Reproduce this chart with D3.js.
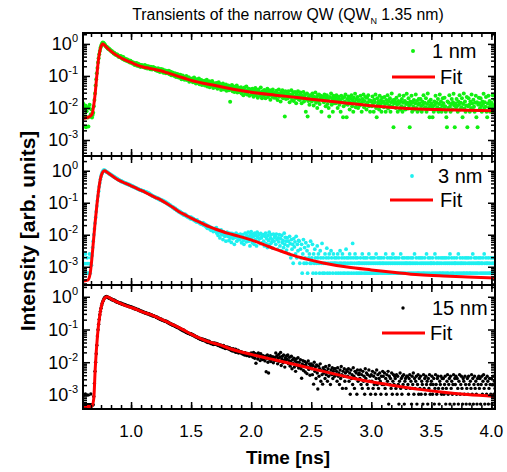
<!DOCTYPE html>
<html>
<head>
<meta charset="utf-8">
<script src="https://cdn.jsdelivr.net/npm/d3@7"></script>
<style>
  body { margin: 0; background: #fff; }
  svg { font-family: "Liberation Sans", Arial, sans-serif; }
</style>
</head>
<body>
<div id="chart"></div>
<script>
// transients are sampled every dt ns; each row = [start time, log10 intensities]
const dt = 0.005;

const trace1nm = [
  [0.60, [-1.85,-2.58,-2.0,-2.27,-1.92,-2.6,-2.1,-1.98,-2.3,-2.58,-2.0,-1.9,-2.27,-2.2,-2.05,-2.3,-2.22,-2.15,-1.95,-1.75]],
  [0.70, [-1.55,-1.3,-1.1,-0.92,-0.75,-0.58,-0.45,-0.32,-0.22,-0.13,-0.07,-0.02,0.02,0.04,0.03,0.01,-0.02,-0.04,-0.07,-0.09]],
  [0.80, [-0.1,-0.14,-0.13,-0.17,-0.16,-0.19,-0.2,-0.24,-0.22,-0.25,-0.26,-0.3,-0.28,-0.31,-0.34,-0.32,-0.35,-0.33,-0.37,-0.4]],
  [0.90, [-0.37,-0.41,-0.4,-0.38,-0.44,-0.42,-0.47,-0.41,-0.45,-0.5,-0.46,-0.49,-0.53,-0.48,-0.5,-0.55,-0.51,-0.54,-0.58,-0.53]],
  [1.00, [-0.55,-0.6,-0.57,-0.62,-0.58,-0.6,-0.66,-0.61,-0.63,-0.6,-0.68,-0.64,-0.62,-0.7,-0.66,-0.65,-0.72,-0.68,-0.66,-0.7]],
  [1.10, [-0.68,-0.73,-0.7,-0.66,-0.75,-0.71,-0.69,-0.77,-0.72,-0.7,-0.76,-0.73,-0.79,-0.71,-0.74,-0.8,-0.75,-0.72,-0.78,-0.76]],
  [1.20, [-0.75,-0.82,-0.78,-0.8,-0.85,-0.76,-0.83,-0.79,-0.88,-0.81,-0.78,-0.86,-0.82,-0.8,-0.9,-0.84,-0.87,-0.83,-0.92,-0.86]],
  [1.30, [-0.85,-0.92,-0.88,-0.84,-0.95,-0.9,-0.87,-0.98,-0.91,-0.89,-0.97,-0.93,-1.0,-0.92,-0.96,-1.03,-0.94,-0.99,-0.95,-1.05]],
  [1.40, [-0.98,-1.05,-0.96,-1.0,-1.1,-1.02,-0.99,-1.08,-1.04,-1.12,-1.03,-1.07,-1.0,-1.13,-1.06,-1.1,-1.04,-1.18,-1.08,-1.12]],
  [1.50, [-1.1,-1.16,-1.08,-1.2,-1.12,-1.05,-1.18,-1.14,-1.24,-1.1,-1.15,-1.22,-1.12,-1.08,-1.26,-1.17,-1.2,-1.13,-1.28,-1.19]],
  [1.60, [-1.18,-1.26,-1.15,-1.3,-1.2,-1.24,-1.12,-1.33,-1.22,-1.27,-1.17,-1.35,-1.25,-1.2,-1.3,-1.16,-1.28,-1.38,-1.23,-1.29]],
  [1.70, [-1.25,-1.35,-1.22,-1.3,-1.4,-1.28,-1.2,-1.36,-1.32,-1.26,-1.44,-1.3,-1.38,-1.24,-1.33,-1.42,-1.29,-1.35,-1.27,-1.46]],
  [1.80, [-1.32,-1.4,-1.3,-1.45,-1.36,-1.81,-1.34,-1.42,-1.28,-1.48,-1.38,-1.33,-1.5,-1.4,-1.35,-1.45,-1.3,-1.52,-1.41,-1.37]],
  [1.90, [-1.38,-1.5,-1.42,-1.35,-1.55,-1.46,-1.4,-1.6,-1.44,-1.36,-1.52,-1.48,-1.33,-1.58,-1.45,-1.5,-1.4,-1.62,-1.47,-1.42]],
  [2.00, [-1.45,-1.58,-1.4,-1.52,-1.65,-1.43,-1.55,-1.38,-1.6,-1.5,-1.47,-1.68,-1.42,-1.56,-1.5,-1.62,-1.36,-1.53,-1.7,-1.48]],
  [2.10, [-1.5,-1.62,-1.44,-1.58,-1.7,-1.48,-1.55,-1.4,-1.66,-1.52,-1.6,-1.45,-1.74,-1.56,-1.49,-1.64,-1.42,-1.58,-1.68,-1.53]],
  [2.20, [-1.52,-1.68,-1.46,-1.6,-1.75,-1.55,-1.42,-1.65,-1.58,-1.8,-1.5,-1.62,-1.45,-1.7,-1.56,-1.64,-2.27,-1.48,-1.72,-1.6]],
  [2.30, [-1.55,-1.7,-1.48,-1.62,-1.82,-1.58,-1.66,-1.45,-1.75,-1.6,-1.52,-1.78,-1.64,-1.5,-1.7,-1.85,-1.57,-1.62,-1.48,-1.73]],
  [2.40, [-1.6,-1.75,-1.52,-1.68,-1.85,-1.62,-1.7,-1.5,-1.8,-1.66,-1.58,-2.12,-1.72,-1.55,-2.27,-1.78,-1.64,-1.9,-1.6,-1.74]],
  [2.50, [-1.62,-1.8,-1.55,-1.7,-1.92,-1.65,-1.75,-1.52,-1.84,-1.68,-2.0,-1.6,-1.78,-1.58,-1.88,-1.7,-1.62,-2.12,-1.74,-1.66]],
  [2.60, [-1.65,-1.82,-1.58,-1.75,-1.95,-1.68,-1.6,-1.88,-1.72,-2.0,-2.27,-1.66,-1.8,-1.55,-1.9,-1.7,-2.12,-1.62,-1.85,-1.74]],
  [2.70, [-1.68,-1.85,-1.6,-1.78,-2.0,-1.72,-1.65,-1.9,-1.75,-2.12,-1.62,-1.82,-1.7,-2.29,-1.95,-1.66,-1.8,-1.58,-1.88,-2.29]],
  [2.80, [-1.72,-1.9,-1.64,-1.8,-2.05,-1.7,-1.85,-1.6,-1.95,-1.76,-2.12,-1.68,-1.83,-1.56,-1.98,-1.74,-1.88,-1.66,-2.0,-1.78]],
  [2.90, [-1.75,-1.92,-1.62,-1.85,-2.12,-1.72,-1.8,-1.58,-1.98,-1.78,-1.66,-1.9,-2.05,-1.68,-1.84,-1.6,-1.95,-1.76,-2.12,-1.8]],
  [3.00, [-1.78,-1.95,-1.64,-1.86,-2.12,-1.74,-1.82,-1.58,-2.0,-2.29,-1.7,-1.9,-1.8,-2.05,-1.62,-1.88,-1.76,-2.12,-1.68,-1.84]],
  [3.10, [-1.8,-1.98,-1.66,-1.88,-2.12,-1.75,-1.85,-1.6,-2.02,-1.78,-1.92,-1.7,-2.12,-1.82,-1.55,-1.95,-1.76,-2.6,-1.86,-1.74]],
  [3.20, [-1.82,-2.0,-1.68,-1.9,-2.12,-1.78,-1.86,-1.6,-2.05,-1.8,-1.95,-1.72,-2.12,-1.84,-1.62,-1.98,-1.78,-2.05,-1.88,-1.56]],
  [3.30, [-1.84,-2.02,-1.7,-1.92,-2.6,-1.8,-1.88,-1.62,-2.12,-1.82,-1.96,-1.75,-2.05,-1.86,-1.58,-2.0,-1.78,-2.12,-1.9,-1.72]],
  [3.40, [-1.85,-2.05,-1.72,-1.94,-2.12,-1.8,-1.9,-1.6,-2.02,-1.84,-1.98,-1.7,-2.12,-1.88,-1.55,-2.0,-1.8,-2.29,-1.92,-1.74]],
  [3.50, [-1.86,-2.0,-2.29,-1.95,-2.12,-1.8,-1.9,-1.62,-2.05,-1.84,-1.98,-1.72,-2.12,-1.88,-1.58,-2.02,-1.8,-2.12,-1.92,-1.7]],
  [3.60, [-1.85,-2.02,-1.68,-1.95,-2.12,-2.29,-2.6,-1.8,-2.0,-1.84,-1.6,-1.96,-2.12,-1.88,-1.72,-2.05,-1.82,-1.56,-1.92,-2.6]],
  [3.70, [-1.86,-2.0,-1.72,-1.94,-2.12,-1.8,-1.9,-1.6,-2.05,-1.84,-1.98,-1.7,-2.29,-1.88,-1.55,-2.02,-1.8,-2.12,-1.92,-1.66]],
  [3.80, [-2.6,-1.95,-1.7,-1.9,-2.12,-1.8,-2.0,-1.58,-1.86,-2.05,-1.74,-1.96,-2.12,-1.84,-1.62,-2.29,-1.82,-2.6,-1.9,-1.68]],
  [3.90, [-1.85,-2.02,-1.7,-1.94,-2.12,-1.8,-1.88,-1.56,-2.0,-1.82,-1.96,-1.66,-2.12,-2.29,-1.86,-1.62,-1.98,-1.78,-2.12,-1.9]],
  [4.00, [-1.84,-2.0,-1.6,-1.92,-2.12,-1.74,-1.88,-1.65]]
];

const trace3nm = [
  [0.60, [-2.72,-3.2,-2.9,-3.2,-2.6,-2.9,-3.2,-2.72,-2.9,-3.2,-2.9,-2.6,-3.2,-2.72,-2.95,-2.65,-2.4,-2.2,-2.0,-1.82]],
  [0.70, [-1.64,-1.46,-1.28,-1.1,-0.94,-0.79,-0.64,-0.5,-0.38,-0.27,-0.18,-0.11,-0.06,-0.02,0.01,0.02,0.01,0.0,-0.02,-0.04]],
  [0.80, [-0.04,-0.05,-0.07,-0.08,-0.1,-0.1,-0.12,-0.14,-0.14,-0.16,-0.17,-0.18,-0.2,-0.2,-0.22,-0.23,-0.24,-0.25,-0.26,-0.28]],
  [0.90, [-0.29,-0.3,-0.31,-0.33,-0.32,-0.35,-0.34,-0.36,-0.37,-0.37,-0.38,-0.4,-0.39,-0.41,-0.42,-0.42,-0.44,-0.43,-0.45,-0.46]],
  [1.00, [-0.46,-0.47,-0.49,-0.48,-0.5,-0.51,-0.52,-0.53,-0.53,-0.55,-0.55,-0.56,-0.57,-0.58,-0.59,-0.6,-0.6,-0.61,-0.62,-0.63]],
  [1.10, [-0.63,-0.63,-0.65,-0.65,-0.66,-0.67,-0.68,-0.68,-0.7,-0.7,-0.71,-0.72,-0.74,-0.75,-0.76,-0.78,-0.79,-0.8,-0.8,-0.82]],
  [1.20, [-0.82,-0.83,-0.85,-0.84,-0.87,-0.86,-0.88,-0.9,-0.89,-0.92,-0.91,-0.93,-0.92,-0.95,-0.94,-0.97,-0.96,-0.99,-0.98,-1.01]],
  [1.30, [-1.01,-1.04,-1.03,-1.06,-1.08,-1.07,-1.1,-1.11,-1.12,-1.15,-1.13,-1.16,-1.17,-1.2,-1.18,-1.21,-1.24,-1.22,-1.25,-1.28]],
  [1.40, [-1.26,-1.3,-1.28,-1.32,-1.31,-1.35,-1.33,-1.36,-1.39,-1.37,-1.36,-1.41,-1.39,-1.43,-1.42,-1.46,-1.44,-1.47,-1.45,-1.5]],
  [1.50, [-1.45,-1.5,-1.48,-1.52,-1.5,-1.55,-1.53,-1.57,-1.55,-1.6,-1.54,-1.6,-1.58,-1.62,-1.6,-1.65,-1.62,-1.67,-1.64,-1.68]],
  [1.60, [-1.62,-1.7,-1.66,-1.72,-1.68,-1.75,-1.7,-1.8,-1.72,-1.78,-1.74,-1.82,-1.76,-1.86,-1.78,-1.85,-1.8,-1.9,-1.82,-1.88]],
  [1.70, [-1.8,-1.88,-1.78,-1.95,-1.84,-2.02,-1.86,-1.92,-2.1,-1.9,-1.85,-2.0,-1.93,-2.15,-1.9,-1.98,-2.05,-1.94,-2.2,-1.97]],
  [1.80, [-1.92,-2.05,-1.98,-2.18,-1.95,-2.1,-2.0,-2.24,-1.96,-2.06,-2.12,-1.98,-2.3,-2.02,-2.08,-1.95,-2.2,-2.05,-2.0,-2.15]],
  [1.90, [-2.02,-2.15,-1.98,-2.1,-2.25,-2.05,-2.0,-2.18,-2.3,-2.08,-1.95,-2.12,-2.22,-2.02,-2.1,-1.92,-2.2,-2.05,-2.35,-2.0]],
  [2.00, [-1.9,-2.1,-2.25,-1.98,-2.05,-2.3,-1.95,-2.15,-2.02,-2.35,-1.92,-2.08,-2.2,-2.0,-2.12,-2.28,-1.96,-2.1,-2.05,-2.25]],
  [2.10, [-2.0,-2.2,-2.35,-2.05,-1.95,-2.28,-2.12,-2.4,-2.02,-2.18,-1.92,-2.3,-2.1,-2.0,-2.25,-2.15,-2.42,-1.98,-2.2,-2.08]],
  [2.20, [-2.05,-2.3,-1.98,-2.15,-2.45,-2.1,-2.22,-2.0,-2.35,-2.12,-2.5,-2.02,-2.25,-2.18,-2.4,-1.95,-2.3,-2.08,-2.2,-2.48]],
  [2.30, [-2.1,-2.35,-2.2,-2.6,-2.05,-2.28,-2.72,-2.15,-2.45,-2.3,-2.89,-2.12,-2.38,-2.22,-2.6,-2.05,-2.72,-2.3,-2.5,-2.18]],
  [2.40, [-2.2,-2.89,-2.45,-2.72,-2.3,-3.2,-2.6,-2.15,-2.89,-2.4,-2.72,-2.25,-2.89,-2.5,-3.2,-2.35,-2.72,-2.6,-2.89,-2.2]],
  [2.50, [-2.89,-2.72,-2.3,-3.2,-2.6,-2.89,-2.45,-2.72,-3.2,-2.89,-2.35,-2.72,-2.6,-2.89,-3.2,-2.5,-2.72,-2.89,-2.27,-3.2]],
  [2.60, [-2.72,-2.89,-3.2,-2.6,-2.89,-2.72,-2.42,-3.2,-2.89,-2.72,-2.6,-3.2,-2.89,-2.5,-2.72,-2.89,-3.2,-2.6,-2.89,-2.72]],
  [2.70, [-2.89,-3.2,-2.72,-2.89,-2.6,-3.2,-2.72,-2.89,-2.5,-3.2,-2.89,-2.72,-2.6,-3.2,-2.89,-2.72,-3.2,-2.89,-2.45,-2.72]],
  [2.80, [-3.2,-2.89,-2.72,-3.2,-2.6,-2.89,-2.72,-3.2,-2.89,-2.27,-2.72,-3.2,-2.89,-2.6,-2.72,-3.2,-2.89,-2.72,-3.2,-2.89]],
  [2.90, [-2.89,-3.2,-2.72,-2.89,-3.2,-2.6,-2.89,-2.72,-3.2,-2.89,-2.72,-3.2,-2.89,-2.72,-3.2,-2.89,-2.6,-3.2,-2.89,-2.72]],
  [3.00, [-3.2,-2.89,-2.72,-3.2,-2.89,-2.72,-3.2,-2.89,-2.6,-3.2,-2.89,-2.72,-3.2,-2.89,-2.72,-2.89,-3.2,-2.72,-2.89,-3.2]],
  [3.10, [-2.89,-2.72,-3.2,-2.89,-2.6,-3.2,-2.89,-2.72,-3.2,-2.89,-3.2,-2.72,-2.89,-3.2,-2.72,-2.89,-2.6,-3.2,-2.89,-2.72]],
  [3.20, [-3.2,-2.89,-2.72,-3.2,-2.89,-3.2,-2.72,-2.89,-3.2,-2.6,-2.89,-3.2,-2.72,-2.89,-3.2,-2.72,-2.89,-3.2,-2.89,-2.72]],
  [3.30, [-2.89,-3.2,-2.72,-2.89,-3.2,-2.89,-2.72,-3.2,-2.89,-2.72,-3.2,-2.89,-2.6,-3.2,-2.89,-2.72,-3.2,-2.89,-3.2,-2.72]],
  [3.40, [-3.2,-2.89,-2.72,-3.2,-2.89,-2.72,-3.2,-2.89,-3.2,-2.72,-2.89,-3.2,-2.6,-2.89,-3.2,-2.72,-2.89,-3.2,-2.72,-2.89]],
  [3.50, [-2.89,-3.2,-2.72,-2.89,-3.2,-2.89,-2.6,-3.2,-2.72,-2.89,-3.2,-2.89,-2.72,-3.2,-2.89,-3.2,-2.72,-2.89,-3.2,-2.72]],
  [3.60, [-3.2,-2.89,-2.72,-3.2,-2.89,-2.72,-3.2,-2.89,-3.2,-2.72,-2.89,-2.6,-3.2,-2.89,-2.72,-3.2,-2.89,-3.2,-2.72,-2.89]],
  [3.70, [-2.89,-3.2,-2.72,-2.89,-3.2,-2.6,-2.89,-3.2,-2.72,-2.89,-3.2,-2.89,-2.72,-3.2,-2.89,-3.2,-2.72,-2.89,-3.2,-2.72]],
  [3.80, [-3.2,-2.89,-2.72,-3.2,-2.89,-3.2,-2.72,-2.89,-3.2,-2.6,-2.89,-3.2,-2.72,-2.89,-3.2,-2.72,-2.89,-3.2,-2.89,-2.72]],
  [3.90, [-2.89,-3.2,-2.72,-2.89,-3.2,-2.89,-2.72,-3.2,-2.6,-2.89,-3.2,-2.72,-2.89,-3.2,-2.89,-2.72,-3.2,-2.89,-3.2,-2.72]],
  [4.00, [-3.2,-2.89,-2.72,-3.2,-2.89,-2.72,-3.2,-2.89]]
];

const trace15nm = [
  [0.60, [-3.3,-3.0,-3.3,-3.3,-2.97,-3.3,-3.3,-3.3,-3.0,-3.3,-3.3,-3.3,-3.3,-2.97,-3.3,-3.3,-3.3,-3.3,-3.05,-2.65]],
  [0.70, [-2.28,-2.0,-1.74,-1.48,-1.2,-1.01,-0.84,-0.69,-0.55,-0.44,-0.35,-0.27,-0.2,-0.14,-0.1,-0.06,-0.03,-0.01,0.0,0.01]],
  [0.80, [0.0,-0.01,-0.03,-0.02,-0.05,-0.04,-0.07,-0.06,-0.09,-0.08,-0.1,-0.11,-0.1,-0.13,-0.12,-0.15,-0.14,-0.17,-0.16,-0.18]],
  [0.90, [-0.18,-0.2,-0.19,-0.21,-0.2,-0.23,-0.22,-0.24,-0.23,-0.25,-0.24,-0.27,-0.26,-0.27,-0.28,-0.28,-0.3,-0.29,-0.31,-0.3]],
  [1.00, [-0.31,-0.33,-0.32,-0.34,-0.35,-0.34,-0.37,-0.36,-0.38,-0.37,-0.39,-0.4,-0.39,-0.42,-0.41,-0.43,-0.44,-0.43,-0.46,-0.45]],
  [1.10, [-0.46,-0.48,-0.47,-0.49,-0.5,-0.49,-0.51,-0.52,-0.51,-0.53,-0.52,-0.55,-0.54,-0.56,-0.55,-0.58,-0.57,-0.59,-0.58,-0.6]],
  [1.20, [-0.6,-0.61,-0.63,-0.62,-0.64,-0.66,-0.65,-0.67,-0.68,-0.69,-0.68,-0.71,-0.7,-0.72,-0.73,-0.72,-0.75,-0.74,-0.76,-0.75]],
  [1.30, [-0.76,-0.79,-0.78,-0.81,-0.8,-0.83,-0.82,-0.85,-0.84,-0.87,-0.86,-0.88,-0.87,-0.9,-0.91,-0.9,-0.93,-0.92,-0.95,-0.94]],
  [1.40, [-0.95,-0.98,-0.97,-1.0,-0.99,-1.02,-1.03,-1.01,-1.05,-1.04,-1.07,-1.06,-1.09,-1.08,-1.1,-1.12,-1.11,-1.13,-1.12,-1.15]],
  [1.50, [-1.13,-1.16,-1.15,-1.18,-1.17,-1.2,-1.19,-1.22,-1.21,-1.24,-1.23,-1.25,-1.27,-1.26,-1.28,-1.3,-1.27,-1.31,-1.29,-1.33]],
  [1.60, [-1.3,-1.33,-1.31,-1.35,-1.32,-1.36,-1.38,-1.34,-1.4,-1.37,-1.36,-1.41,-1.39,-1.43,-1.4,-1.44,-1.42,-1.46,-1.41,-1.45]],
  [1.70, [-1.42,-1.45,-1.43,-1.47,-1.44,-1.49,-1.46,-1.5,-1.47,-1.52,-1.48,-1.53,-1.5,-1.55,-1.49,-1.56,-1.52,-1.58,-1.54,-1.57]],
  [1.80, [-1.53,-1.58,-1.55,-1.6,-1.56,-1.62,-1.58,-1.64,-1.6,-1.66,-1.59,-1.65,-1.62,-1.68,-1.6,-1.7,-1.64,-1.67,-1.63,-1.72]],
  [1.90, [-1.66,-1.7,-1.68,-1.72,-1.69,-1.74,-1.7,-1.76,-1.72,-1.78,-1.71,-1.77,-1.74,-1.8,-1.73,-1.79,-1.76,-1.82,-1.75,-1.8]],
  [2.00, [-1.72,-1.8,-1.75,-1.85,-1.7,-1.78,-1.88,-1.74,-2.03,-1.8,-1.76,-1.9,-1.72,-1.84,-1.79,-1.95,-1.74,-1.86,-1.8,-1.92]],
  [2.10, [-1.8,-1.9,-1.84,-1.96,-1.82,-2.29,-1.88,-1.78,-2.0,-2.33,-1.85,-1.92,-1.8,-1.98,-1.86,-1.9,-1.83,-2.02,-1.88,-1.95]],
  [2.20, [-1.85,-1.72,-1.95,-1.8,-2.05,-1.88,-1.76,-1.98,-1.84,-1.7,-2.1,-1.9,-1.82,-2.02,-1.78,-1.94,-2.15,-1.86,-1.92,-1.8]],
  [2.30, [-1.9,-1.78,-2.05,-1.95,-1.85,-2.12,-1.98,-1.82,-2.2,-1.92,-2.04,-1.88,-2.15,-1.96,-2.28,-1.9,-2.0,-2.1,-1.86,-2.18]],
  [2.40, [-2.0,-2.12,-1.92,-2.2,-2.49,-2.05,-1.95,-2.25,-2.1,-1.98,-2.3,-2.08,-2.02,-2.35,-2.15,-1.96,-2.22,-2.05,-2.4,-2.1]],
  [2.50, [-2.05,-2.2,-2.38,-2.1,-2.67,-2.0,-2.28,-2.15,-2.5,-2.08,-2.33,-2.82,-2.12,-2.43,-2.2,-2.05,-2.58,-2.25,-2.38,-2.67]],
  [2.60, [-2.17,-2.33,-2.24,-2.5,-2.13,-2.38,-2.28,-2.58,-2.2,-2.43,-2.1,-2.33,-2.68,-2.24,-2.38,-2.17,-2.5,-2.28,-2.2,-2.43]],
  [2.70, [-2.2,-2.38,-2.28,-2.58,-2.17,-2.43,-2.33,-2.68,-2.24,-2.5,-2.13,-2.38,-2.8,-2.28,-2.43,-2.2,-2.58,-2.33,-2.8,-2.24]],
  [2.80, [-2.28,-2.43,-2.2,-2.58,-2.33,-2.98,-2.24,-2.5,-2.38,-2.68,-2.17,-2.43,-2.8,-2.28,-2.5,-2.33,-2.98,-2.24,-2.58,-2.38]],
  [2.90, [-2.33,-2.5,-2.24,-2.68,-2.38,-2.8,-2.28,-2.58,-2.43,-2.98,-2.2,-2.5,-2.33,-2.68,-2.38,-2.8,-2.24,-2.58,-2.43,-2.98]],
  [3.00, [-2.38,-2.58,-2.28,-2.8,-2.43,-2.68,-2.33,-2.98,-2.5,-2.24,-2.68,-2.38,-2.8,-2.5,-2.33,-2.58,-2.98,-2.43,-2.68,-2.28]],
  [3.10, [-2.43,-2.68,-2.33,-2.8,-2.5,-2.98,-2.38,-2.58,-2.28,-3.28,-2.43,-2.68,-2.5,-2.8,-2.33,-2.98,-2.58,-2.38,-2.68,-2.43]],
  [3.20, [-2.5,-2.8,-2.38,-2.98,-2.43,-2.68,-3.28,-2.58,-2.33,-2.8,-2.5,-2.98,-2.43,-2.68,-2.38,-3.28,-2.58,-2.5,-2.8,-2.43]],
  [3.30, [-2.43,-2.68,-2.98,-2.5,-2.38,-2.8,-2.58,-3.28,-2.43,-2.68,-2.33,-2.98,-2.5,-2.8,-2.58,-2.43,-3.28,-2.68,-2.38,-2.98]],
  [3.40, [-2.5,-2.8,-2.43,-2.98,-2.58,-2.68,-3.28,-2.38,-2.8,-2.5,-2.98,-2.43,-2.68,-2.58,-3.28,-2.5,-2.8,-2.38,-2.98,-2.68]],
  [3.50, [-2.58,-2.43,-2.98,-2.68,-2.5,-3.28,-2.8,-2.38,-2.68,-2.98,-2.5,-2.43,-2.8,-3.28,-2.58,-2.68,-2.43,-2.98,-2.5,-2.8]],
  [3.60, [-2.5,-2.98,-2.68,-2.43,-3.28,-2.8,-2.58,-2.38,-2.98,-2.68,-2.5,-3.28,-2.43,-2.8,-2.58,-2.98,-2.68,-2.38,-3.28,-2.5]],
  [3.70, [-2.68,-2.43,-2.98,-2.5,-2.8,-3.28,-2.58,-2.38,-2.98,-2.68,-2.43,-2.8,-3.28,-2.5,-2.58,-2.98,-2.43,-2.68,-3.28,-2.8]],
  [3.80, [-2.5,-2.98,-2.43,-2.68,-3.28,-2.58,-2.8,-2.38,-2.98,-2.5,-3.28,-2.68,-2.43,-2.8,-2.58,-2.98,-3.28,-2.5,-2.68,-2.43]],
  [3.90, [-2.8,-2.5,-3.28,-2.68,-2.43,-2.98,-2.58,-2.38,-2.8,-3.28,-2.5,-2.68,-2.98,-2.43,-2.58,-3.28,-2.8,-2.5,-2.68,-2.98]],
  [4.00, [-2.5,-3.28,-2.68,-2.43,-2.98,-2.58,-2.8,-2.38]]
];

// fit curves: [time (ns), log10 intensity]
const fit1nm = [[0.60,-2.33],[0.65,-2.28],[0.675,-2.2],[0.69,-1.9],[0.70,-1.6],[0.716,-0.95],[0.73,-0.45],[0.745,-0.15],[0.763,0],[0.78,-0.04],[0.80,-0.12],[0.85,-0.28],[0.90,-0.4],[0.95,-0.5],[1.00,-0.58],[1.05,-0.66],[1.10,-0.72],[1.15,-0.76],[1.20,-0.8],[1.25,-0.84],[1.30,-0.9],[1.35,-0.96],[1.40,-1.02],[1.45,-1.08],[1.50,-1.14],[1.60,-1.23],[1.70,-1.3],[1.80,-1.38],[1.90,-1.45],[2.00,-1.51],[2.20,-1.6],[2.40,-1.68],[2.60,-1.77],[2.80,-1.85],[3.00,-1.93],[3.20,-1.99],[3.40,-2.03],[3.60,-2.055],[3.80,-2.075],[4.04,-2.09]];
const fit3nm = [[0.60,-3.45],[0.64,-3.42],[0.66,-3.2],[0.675,-2.7],[0.688,-2.15],[0.70,-1.65],[0.716,-1.06],[0.738,-0.4],[0.757,-0.1],[0.78,0],[0.80,-0.05],[0.85,-0.18],[0.90,-0.3],[0.95,-0.39],[1.00,-0.47],[1.05,-0.56],[1.10,-0.64],[1.15,-0.74],[1.20,-0.83],[1.25,-0.92],[1.30,-1.03],[1.35,-1.15],[1.40,-1.28],[1.45,-1.38],[1.50,-1.48],[1.55,-1.57],[1.60,-1.66],[1.65,-1.75],[1.70,-1.82],[1.80,-1.95],[1.90,-2.05],[2.00,-2.16],[2.10,-2.3],[2.20,-2.45],[2.30,-2.58],[2.40,-2.7],[2.60,-2.88],[2.80,-3.01],[3.00,-3.1],[3.20,-3.18],[3.40,-3.25],[3.60,-3.29],[3.80,-3.32],[4.04,-3.35]];
const fit15nm = [[0.60,-3.35],[0.675,-3.35],[0.69,-3.1],[0.702,-2.18],[0.721,-1.17],[0.744,-0.46],[0.771,-0.1],[0.80,0],[0.84,-0.08],[0.91,-0.2],[0.96,-0.28],[1.02,-0.35],[1.10,-0.47],[1.16,-0.54],[1.23,-0.65],[1.30,-0.77],[1.37,-0.89],[1.44,-1.02],[1.50,-1.14],[1.575,-1.27],[1.65,-1.38],[1.74,-1.47],[1.82,-1.58],[1.91,-1.68],[2.00,-1.76],[2.10,-1.85],[2.20,-1.93],[2.40,-2.1],[2.60,-2.28],[2.80,-2.45],[3.00,-2.6],[3.20,-2.72],[3.40,-2.83],[3.60,-2.92],[3.80,-2.99],[4.04,-3.05]];

const seriesLabels = ["1 nm", "3 nm", "15 nm"];
const xTickValues = [1.0, 1.5, 2.0, 2.5, 3.0, 3.5, 4.0];
const decadeExps = [-3, -2, -1, 0];

const width = 507, height = 472;
const plotLeft = 83, plotRight = 495;

const panels = [
  { trace: trace1nm, fit: fit1nm, color: "#11f011", r: 2, top: 33, bottom: 156, lo: -3.5, hi: 0.34, leg: { dot: 18, line: 44, dotX: 413, textX: 432, lineX: 392, fitX: 440 } },
  { trace: trace3nm, fit: fit3nm, color: "#1ef0f0", r: 1.9, top: 156, bottom: 285, lo: -3.57, hi: 0.46, leg: { dot: 20, line: 44, dotX: 412, textX: 438, lineX: 390, fitX: 440 } },
  { trace: trace15nm, fit: fit15nm, color: "#000", r: 1.7, top: 285, bottom: 409, lo: -3.43, hi: 0.36, leg: { dot: 23, line: 48, dotX: 403, textX: 432, lineX: 382, fitX: 430 } }
];

const svg = d3.select("#chart").append("svg")
  .attr("width", width)
  .attr("height", height);

const x = d3.scaleLinear().domain([0.6, 4.03]).range([plotLeft, plotRight]);
const xMinor = d3.range(0.5, 4.05, 0.5 / 6).filter(t => t > 0.61 && t < 4.03);

function tickAxis(g, axis, values, size) {
  g.call(axis.tickValues(values).tickSize(-size).tickSizeOuter(0).tickFormat(""));
  g.select(".domain").remove();
  g.selectAll(".tick line").attr("stroke", "#000").attr("stroke-width", 1.5);
}

panels.forEach((p, k) => {
  const y = d3.scaleLog().domain([10 ** p.lo, 10 ** p.hi]).range([p.bottom, p.top]);
  const yMinor = [];
  for (let e = -4; e <= 0; e++) for (let m = 2; m <= 9; m++) {
    const v = m * 10 ** e;
    if (v > 10 ** p.lo && v < 10 ** p.hi) yMinor.push(v);
  }
  const yMajor = decadeExps.map(e => 10 ** e);

  svg.append("clipPath").attr("id", "clip" + k)
    .append("rect")
    .attr("x", plotLeft).attr("y", p.top)
    .attr("width", plotRight - plotLeft).attr("height", p.bottom - p.top);

  const plot = svg.append("g").attr("clip-path", `url(#clip${k})`);

  const pts = p.trace.flatMap(([t0, vals]) => vals.map((lg, i) => [t0 + i * dt, 10 ** lg]));
  plot.selectAll("circle")
    .data(pts)
    .join("circle")
    .attr("cx", d => x(d[0]))
    .attr("cy", d => y(d[1]))
    .attr("r", p.r)
    .attr("fill", p.color);

  const line = d3.line()
    .x(d => x(d[0]))
    .y(d => y(10 ** d[1]))
    .curve(d3.curveMonotoneX);

  plot.append("path")
    .datum(p.fit)
    .attr("d", line)
    .attr("fill", "none")
    .attr("stroke", "#ff0000")
    .attr("stroke-width", 3);

  // ticks on all four sides, pointing inward
  tickAxis(svg.append("g").attr("transform", `translate(0,${p.bottom})`), d3.axisBottom(x), xTickValues, 7);
  tickAxis(svg.append("g").attr("transform", `translate(0,${p.bottom})`), d3.axisBottom(x), xMinor, 4);
  tickAxis(svg.append("g").attr("transform", `translate(0,${p.top})`), d3.axisTop(x), xTickValues, 7);
  tickAxis(svg.append("g").attr("transform", `translate(0,${p.top})`), d3.axisTop(x), xMinor, 4);
  tickAxis(svg.append("g").attr("transform", `translate(${plotLeft},0)`), d3.axisLeft(y), yMajor, 7);
  tickAxis(svg.append("g").attr("transform", `translate(${plotLeft},0)`), d3.axisLeft(y), yMinor, 4);
  tickAxis(svg.append("g").attr("transform", `translate(${plotRight},0)`), d3.axisRight(y), yMajor, 7);
  tickAxis(svg.append("g").attr("transform", `translate(${plotRight},0)`), d3.axisRight(y), yMinor, 4);

  svg.append("rect")
    .attr("x", plotLeft).attr("y", p.top)
    .attr("width", plotRight - plotLeft).attr("height", p.bottom - p.top)
    .attr("fill", "none").attr("stroke", "#000").attr("stroke-width", 2);

  // y tick labels 10^n
  const yl = svg.append("g").selectAll("text")
    .data(decadeExps)
    .join("text")
    .attr("x", 78)
    .attr("y", e => y(10 ** e) + 6.5)
    .attr("text-anchor", "end")
    .attr("font-size", 18);
  yl.append("tspan").text("10");
  yl.append("tspan").attr("dy", -8).attr("font-size", 11).text(e => String(e));

  // legend
  const lg = p.leg;
  svg.append("circle")
    .attr("cx", lg.dotX).attr("cy", p.top + lg.dot).attr("r", p.r).attr("fill", p.color);
  svg.append("text")
    .attr("x", lg.textX).attr("y", p.top + lg.dot + 7)
    .attr("font-size", 20)
    .text(seriesLabels[k]);
  svg.append("line")
    .attr("x1", lg.lineX).attr("x2", lg.lineX + 43)
    .attr("y1", p.top + lg.line).attr("y2", p.top + lg.line)
    .attr("stroke", "#ff0000").attr("stroke-width", 3);
  svg.append("text")
    .attr("x", lg.fitX).attr("y", p.top + lg.line + 7)
    .attr("font-size", 20)
    .text("Fit");

  if (k === panels.length - 1) {
    svg.append("g").selectAll("text")
      .data(xTickValues)
      .join("text")
      .attr("x", d => x(d))
      .attr("y", p.bottom + 28)
      .attr("text-anchor", "middle")
      .attr("font-size", 17)
      .text(d => d.toFixed(1));
  }
});

// title with subscript
const title = svg.append("text")
  .attr("x", 288).attr("y", 20)
  .attr("text-anchor", "middle")
  .attr("font-size", 15.8);
title.append("tspan").text("Transients of the narrow QW (QW");
title.append("tspan").attr("dy", 4).attr("font-size", 9).text("N");
title.append("tspan").attr("dy", -4).text(" 1.35 nm)");

svg.append("text")
  .attr("transform", "translate(35,231) rotate(-90)")
  .attr("text-anchor", "middle")
  .attr("font-size", 21)
  .attr("font-weight", "bold")
  .text("Intensity [arb. units]");

svg.append("text")
  .attr("x", 288).attr("y", 464)
  .attr("text-anchor", "middle")
  .attr("font-size", 19)
  .attr("font-weight", "bold")
  .text("Time [ns]");
</script>
</body>
</html>
